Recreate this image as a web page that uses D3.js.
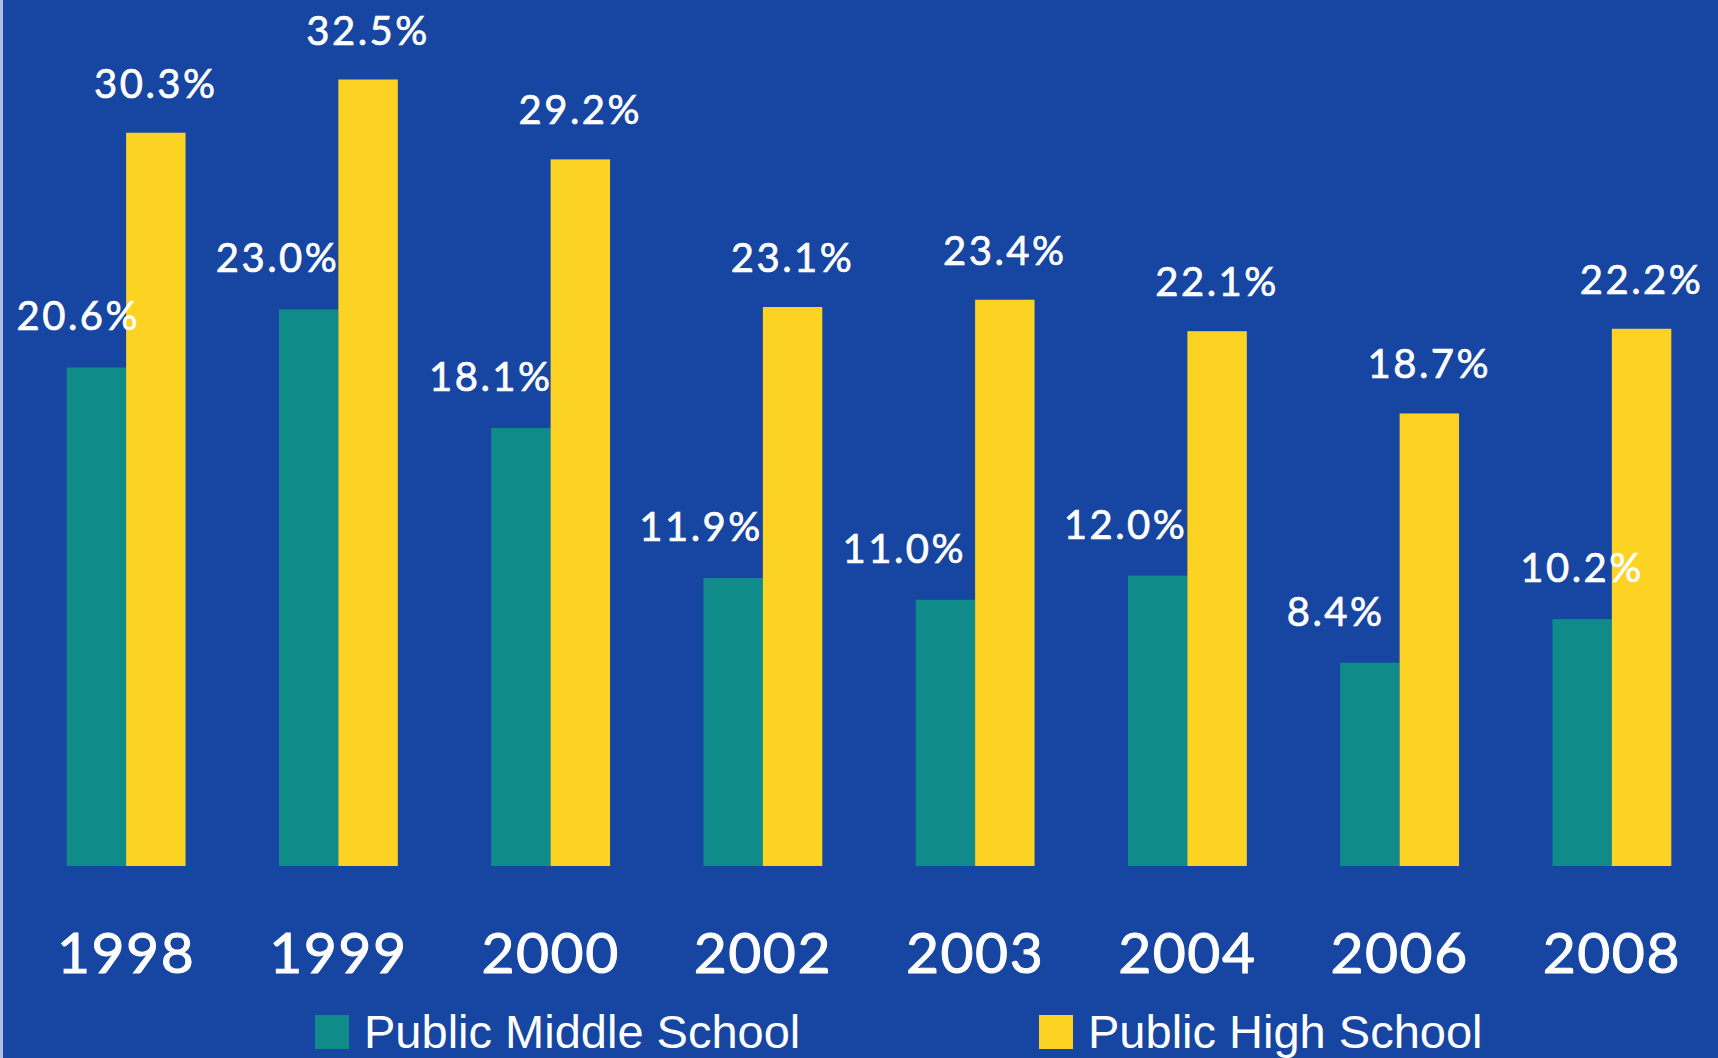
<!DOCTYPE html>
<html>
<head>
<meta charset="utf-8">
<script src="https://cdn.jsdelivr.net/npm/d3@7"></script>
<style>
  html, body { margin: 0; padding: 0; background: #1645a2; }
  svg { display: block; }
</style>
</head>
<body>
<svg id="chart" width="1718" height="1058"></svg>
<script>
const years = ['1998', '1999', '2000', '2002', '2003', '2004', '2006', '2008'];
const seriesNames = ['Public Middle School', 'Public High School'];
const middleSchool = [20.6, 23.0, 18.1, 11.9, 11.0, 12.0, 8.4, 10.2];
const highSchool = [30.3, 32.5, 29.2, 23.1, 23.4, 22.1, 18.7, 22.2];

// horizontal nudge for the middle school labels (they sit left of the bar, end anchored)
const middleLabelDx = [14, 1, 2, 0, -9, 0, -15, 32];

const W = 1718, H = 1058;
const baseY = 866;
const colors = { bg: '#1645a2', teal: '#0f8c8a', yellow: '#fdd323', text: '#ffffff' };

const svg = d3.select('#chart');
svg.append('rect').attr('width', W).attr('height', H).attr('fill', colors.bg);
// thin pale strip on the left edge
svg.append('rect').attr('x', 0).attr('y', 0).attr('width', 3).attr('height', H).attr('fill', '#aebde0');

const rows = years.map((y, i) => ({ year: y, values: [middleSchool[i], highSchool[i]] }));

const x0 = d3.scaleBand().domain(years).range([20, 1718]).paddingInner(0.44).paddingOuter(0.22);
const x1 = d3.scaleBand().domain(seriesNames).range([0, x0.bandwidth()]);
const y = d3.scaleLinear().domain([0, 35]).range([baseY, baseY - 35 * 24.2]);
const color = d3.scaleOrdinal().domain(seriesNames).range([colors.teal, colors.yellow]);

const groups = svg.append('g').selectAll('g')
  .data(rows).join('g')
  .attr('transform', d => `translate(${x0(d.year)},0)`);

groups.selectAll('rect')
  .data(d => d.values.map((v, k) => ({ name: seriesNames[k], v })))
  .join('rect')
  .attr('x', d => x1(d.name))
  .attr('y', d => y(d.v))
  .attr('width', x1.bandwidth())
  .attr('height', d => baseY - y(d.v))
  .attr('fill', d => color(d.name));

const labelFont = 'Lato, "Open Sans", sans-serif';

function valueLabel(sel) {
  sel.attr('font-family', labelFont)
    .attr('font-size', 40)
    .attr('letter-spacing', 2.5)
    .attr('fill', colors.text)
    .attr('stroke', colors.text)
    .attr('stroke-width', 0.7);
}

// high school labels, centred on the yellow bar
groups.append('text')
  .attr('x', x1(seriesNames[1]) + x1.bandwidth() / 2)
  .attr('y', d => y(d.values[1]) - 35)
  .attr('text-anchor', 'middle')
  .call(valueLabel)
  .text(d => d.values[1].toFixed(1) + '%');

// middle school labels, right edge near the teal bar's right edge
groups.append('text')
  .attr('x', (d, i) => x1(seriesNames[0]) + x1.bandwidth() + middleLabelDx[i])
  .attr('y', d => y(d.values[0]) - 37)
  .attr('text-anchor', 'end')
  .call(valueLabel)
  .text(d => d.values[0].toFixed(1) + '%');

// year labels
svg.append('g').selectAll('text')
  .data(years).join('text')
  .attr('x', d => x0(d) + x0.bandwidth() / 2)
  .attr('y', 973)
  .attr('text-anchor', 'middle')
  .attr('font-family', labelFont)
  .attr('font-size', 57)
  .attr('letter-spacing', 1.5)
  .attr('fill', colors.text)
  .attr('stroke', colors.text)
  .attr('stroke-width', 1)
  .text(d => d);

// legend
const legendX = [315, 1039];
const legend = svg.append('g').selectAll('g')
  .data(seriesNames).join('g')
  .attr('transform', (d, i) => `translate(${legendX[i]},1015)`);
legend.append('rect')
  .attr('width', 34).attr('height', 34)
  .attr('fill', d => color(d));
legend.append('text')
  .attr('x', 49).attr('y', 33)
  .attr('font-family', '"Liberation Sans", Arial, sans-serif')
  .attr('font-size', 47)
  .attr('fill', colors.text)
  .text(d => d);
</script>
</body>
</html>
